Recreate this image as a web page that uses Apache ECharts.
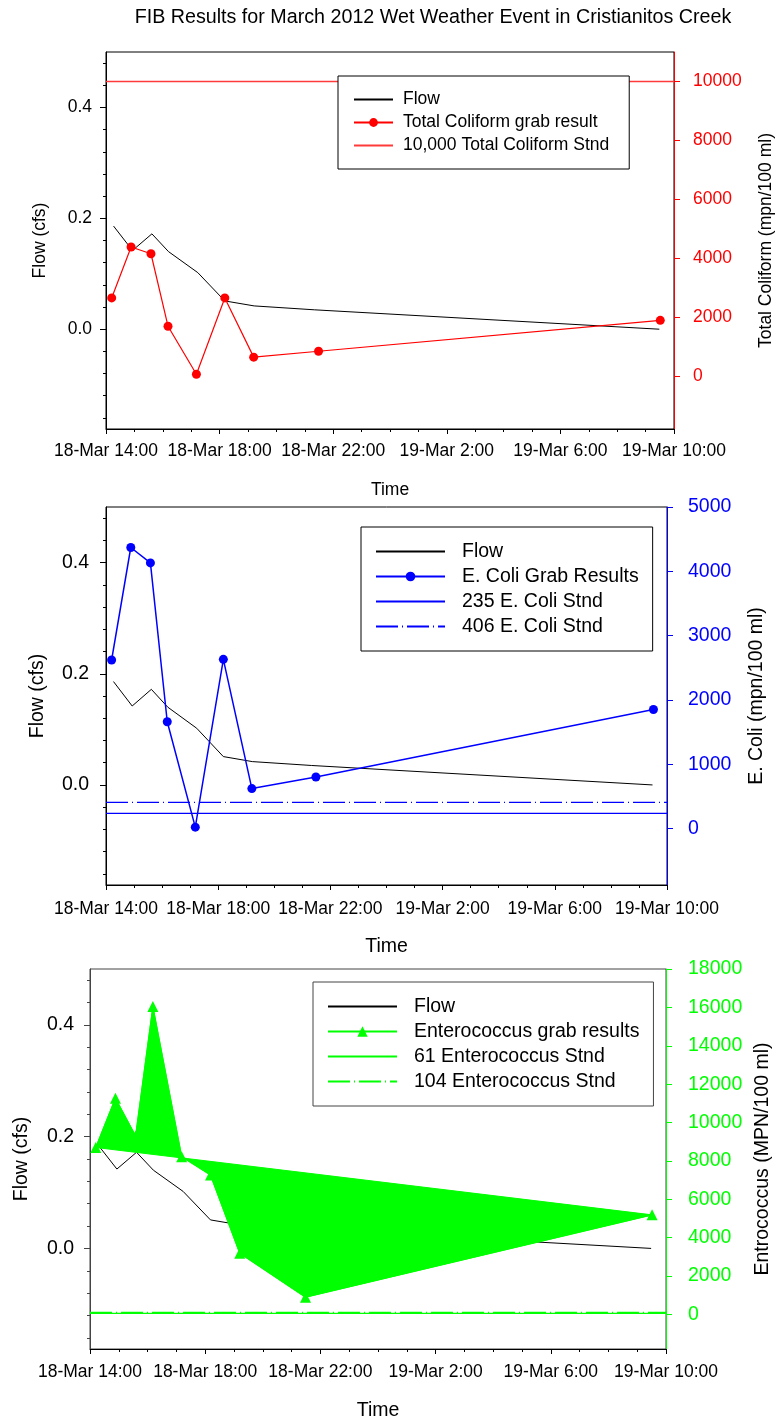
<!DOCTYPE html>
<html>
<head>
<meta charset="utf-8">
<script src="https://cdn.jsdelivr.net/npm/echarts@6/dist/echarts.min.js"></script>
<style>
  html, body { margin: 0; padding: 0; background: #fff; }
  #chart { width: 777px; height: 1425px; }
</style>
</head>
<body>
<div id="chart"></div>
<script>
// ---- data -------------------------------------------------------------
const TITLE = 'FIB Results for March 2012 Wet Weather Event in Cristianitos Creek';

const TIME_RANGE = ['2012-03-18 14:00', '2012-03-19 10:00'];

const FLOW_TIMES = ['2012-03-18 14:16', '2012-03-18 14:56', '2012-03-18 15:37', '2012-03-18 16:12',
                    '2012-03-18 17:14', '2012-03-18 18:11', '2012-03-18 19:13', '2012-03-18 21:20',
                    '2012-03-19 09:29'];
const FLOW_CFS = [0.186, 0.142, 0.172, 0.140, 0.102, 0.051, 0.042, 0.035, 0.0];

const SAMPLE_TIMES = ['2012-03-18 14:12', '2012-03-18 14:53', '2012-03-18 15:35', '2012-03-18 16:11',
                      '2012-03-18 17:11', '2012-03-18 18:11', '2012-03-18 19:12', '2012-03-18 21:29',
                      '2012-03-19 09:31'];
const TOTAL_COLIFORM = [2650, 4380, 4150, 1690, 60, 2650, 640, 840, 1890];
const E_COLI = [2620, 4370, 4130, 1660, 20, 2630, 620, 800, 1850];
const ENTEROCOCCUS = [8700, 11270, 9300, 16040, 8220, 7270, 3190, 900, 5190];

const TC_STANDARD = 10000;
const EC_STANDARDS = [235, 406];
const ENT_STANDARDS = [61, 104];

const FLOW_TICKS = [0, 0.2, 0.4];
const FLOW_MINOR_TICKS = [-0.16, -0.12, -0.08, -0.04, 0.04, 0.08, 0.12, 0.16,
                          0.24, 0.28, 0.32, 0.36, 0.44, 0.48];
const TC_TICKS = [0, 2000, 4000, 6000, 8000, 10000];
const EC_TICKS = [0, 1000, 2000, 3000, 4000, 5000];
const ENT_TICKS = [0, 2000, 4000, 6000, 8000, 10000, 12000, 14000, 16000, 18000];

// ---- helpers ----------------------------------------------------------
const FONT = '"Liberation Sans", Arial, Helvetica, sans-serif';
const RED = '#ff0000', BLUE = '#0000ff', GREEN = '#00ff00';
const HOUR = 3600 * 1000;

function toMs(s) {
  const [d, t] = s.split(' ');
  const [y, mo, da] = d.split('-').map(Number);
  const [h, mi] = t.split(':').map(Number);
  return Date.UTC(y, mo - 1, da, h, mi);
}
const X_MIN = toMs(TIME_RANGE[0]);
const X_MAX = toMs(TIME_RANGE[1]);
const pairs = (times, vals) => times.map((t, i) => [toMs(t), vals[i]]);
const flat = (v) => [[X_MIN, v], [X_MAX, v]];

function timeLabel(v) {
  const d = new Date(v);
  return d.getUTCDate() + '-Mar ' + d.getUTCHours() + ':00';
}

function xAxis(grid, nameFs, margin) {
  return {
    type: 'value', gridIndex: grid, min: X_MIN, max: X_MAX, interval: 4 * HOUR,
    name: 'Time', nameLocation: 'middle', nameGap: 52,
    nameTextStyle: { fontFamily: FONT, fontSize: nameFs, color: '#000' },
    axisLine: { show: true, onZero: false, lineStyle: { color: '#000', width: 1 } },
    axisTick: { show: true, length: 5, lineStyle: { color: '#000' } },
    minorTick: { show: true, splitNumber: 4, length: 3, lineStyle: { color: '#000' } },
    splitLine: { show: false },
    axisLabel: { fontFamily: FONT, fontSize: 17.5, color: '#000', margin: margin,
                 formatter: timeLabel, interval: 0, hideOverlap: false,
                 showMinLabel: true, showMaxLabel: true }
  };
}

function flowAxes(grid, fs, nameGap, margin, lineColor) {
  return [{
    type: 'value', gridIndex: grid, position: 'left', min: -0.18, max: 0.5,
    name: 'Flow (cfs)', nameLocation: 'middle', nameGap: nameGap,
    nameTextStyle: { fontFamily: FONT, fontSize: fs, color: '#000' },
    axisLine: { show: true, onZero: false, lineStyle: { color: lineColor, width: 1 } },
    axisTick: { show: true, length: 6, customValues: FLOW_TICKS, lineStyle: { color: lineColor } },
    splitLine: { show: false },
    axisLabel: { fontFamily: FONT, fontSize: fs, color: '#000', margin: margin,
                 customValues: FLOW_TICKS, formatter: (v) => v.toFixed(1) }
  }, {
    type: 'value', gridIndex: grid, position: 'left', min: -0.18, max: 0.5,
    axisLine: { show: false },
    axisTick: { show: true, length: 3, customValues: FLOW_MINOR_TICKS, lineStyle: { color: lineColor } },
    splitLine: { show: false },
    axisLabel: { show: false }
  }];
}

function rightAxis(grid, name, min, max, ticks, color, fs, nameGap, margin) {
  return {
    type: 'value', gridIndex: grid, position: 'right', min: min, max: max,
    name: name, nameLocation: 'middle', nameGap: nameGap,
    nameTextStyle: { fontFamily: FONT, fontSize: fs, color: '#000' },
    axisLine: { show: true, onZero: false, lineStyle: { color: color, width: 1 } },
    axisTick: { show: true, length: 6, customValues: ticks, lineStyle: { color: color } },
    splitLine: { show: false },
    axisLabel: { fontFamily: FONT, fontSize: fs, color: color, margin: margin, customValues: ticks,
                 formatter: (v) => String(Math.round(v)) }
  };
}

function legend(left, top, items, fs, itemWidth, itemHeight, lineH, padding, textGap, border) {
  return {
    orient: 'vertical', left: left, top: top,
    data: items, itemWidth: itemWidth, itemHeight: itemHeight, itemGap: 0,
    padding: padding, backgroundColor: '#fff', borderColor: border, borderWidth: 1,
    textStyle: { fontFamily: FONT, fontSize: fs, color: '#000', lineHeight: lineH,
                 padding: [0, 0, 0, textGap] },
    selectedMode: false
  };
}
const lineOnly = (name) => ({ name: name, itemStyle: { opacity: 0 } });

// ---- chart ------------------------------------------------------------
const chart = echarts.init(document.getElementById('chart'), null, { renderer: 'canvas' });

const gridBase = { show: true, borderWidth: 1, outerBoundsMode: 'none', containLabel: false };

const option = {
  animation: false,
  backgroundColor: '#fff',
  title: {
    text: TITLE, left: 428, top: 3, textAlign: 'center',
    textStyle: { fontFamily: FONT, fontSize: 19.7, fontWeight: 'normal', color: '#000' }
  },
  grid: [
    Object.assign({ left: 106, right: 103, top: 52, height: 377, borderColor: '#000' }, gridBase),
    Object.assign({ left: 106, right: 110, top: 507, height: 378, borderColor: '#000' }, gridBase),
    Object.assign({ left: 90, right: 111, top: 969, height: 380, borderColor: '#444' }, gridBase)
  ],
  legend: [
    legend(338, 76, [lineOnly('Flow'), 'Total Coliform grab result', lineOnly('10,000 Total Coliform Stnd')],
           17.5, 39, 11, 23, [12, 20, 12, 15], 5, '#000'),
    legend(361, 527, [lineOnly('Flow'), 'E. Coli Grab Results', lineOnly('235 E. Coli Stnd'),
                      lineOnly('406 E. Coli Stnd')],
           19.5, 69, 12, 25, [12, 14, 12, 14], 12, '#000'),
    legend(313, 982, [lineOnly('Flow'), 'Enterococcus grab results', lineOnly('61 Enterococcus Stnd'),
                      lineOnly('104 Enterococcus Stnd')],
           19.5, 69, 13, 25, [12, 14, 12, 14], 12, '#444')
  ],
  xAxis: [xAxis(0, 17.5, 13), xAxis(1, 19.5, 15), xAxis(2, 19.5, 14)],
  yAxis: [
    ...flowAxes(0, 17.5, 57, 14, '#000'),
    rightAxis(0, 'Total Coliform (mpn/100 ml)', -1800, 11000, TC_TICKS, RED, 17.5, 83, 19),
    ...flowAxes(1, 19.5, 58, 17, '#000'),
    rightAxis(1, 'E. Coli (mpn/100 ml)', -880, 5000, EC_TICKS, BLUE, 19.5, 80, 21),
    ...flowAxes(2, 19.5, 58, 16, '#444'),
    rightAxis(2, 'Entrococcus (MPN/100 ml)', -1800, 18000, ENT_TICKS, GREEN, 19.5, 87, 22)
  ],
  series: [
    // Total coliform panel
    { name: 'Flow', type: 'line', xAxisIndex: 0, yAxisIndex: 0, data: pairs(FLOW_TIMES, FLOW_CFS),
      symbol: 'none', lineStyle: { color: '#000', width: 1 }, itemStyle: { color: '#000' }, z: 2 },
    { name: '10,000 Total Coliform Stnd', type: 'line', xAxisIndex: 0, yAxisIndex: 2, data: flat(TC_STANDARD),
      symbol: 'none', lineStyle: { color: '#ff3a3a', width: 1.5 }, itemStyle: { color: '#ff3a3a' }, z: 2 },
    { name: 'Total Coliform grab result', type: 'line', xAxisIndex: 0, yAxisIndex: 2,
      data: pairs(SAMPLE_TIMES, TOTAL_COLIFORM), symbol: 'circle', symbolSize: 9,
      lineStyle: { color: RED, width: 1.2 }, itemStyle: { color: RED }, z: 3 },

    // E. coli panel
    { name: 'Flow', type: 'line', xAxisIndex: 1, yAxisIndex: 3, data: pairs(FLOW_TIMES, FLOW_CFS),
      symbol: 'none', lineStyle: { color: '#000', width: 1 }, itemStyle: { color: '#000' }, z: 2 },
    { name: '235 E. Coli Stnd', type: 'line', xAxisIndex: 1, yAxisIndex: 5, data: flat(EC_STANDARDS[0]),
      symbol: 'none', lineStyle: { color: BLUE, width: 1.2 }, itemStyle: { color: BLUE }, z: 2 },
    { name: '406 E. Coli Stnd', type: 'line', xAxisIndex: 1, yAxisIndex: 5, data: flat(EC_STANDARDS[1]),
      symbol: 'none', lineStyle: { color: BLUE, width: 1.2, type: [22, 4, 1, 4] },
      itemStyle: { color: BLUE }, z: 2 },
    { name: 'E. Coli Grab Results', type: 'line', xAxisIndex: 1, yAxisIndex: 5,
      data: pairs(SAMPLE_TIMES, E_COLI), symbol: 'circle', symbolSize: 9,
      lineStyle: { color: BLUE, width: 1.5 }, itemStyle: { color: BLUE }, z: 3 },

    // Enterococcus panel
    { name: 'Flow', type: 'line', xAxisIndex: 2, yAxisIndex: 6, data: pairs(FLOW_TIMES, FLOW_CFS),
      symbol: 'none', lineStyle: { color: '#000', width: 1 }, itemStyle: { color: '#000' }, z: 2 },
    { name: '61 Enterococcus Stnd', type: 'line', xAxisIndex: 2, yAxisIndex: 8, data: flat(ENT_STANDARDS[0]),
      symbol: 'none', lineStyle: { color: GREEN, width: 1.2 }, itemStyle: { color: GREEN }, z: 2 },
    { name: '104 Enterococcus Stnd', type: 'line', xAxisIndex: 2, yAxisIndex: 8, data: flat(ENT_STANDARDS[1]),
      symbol: 'none', lineStyle: { color: GREEN, width: 1.2, type: [22, 4, 1, 4] },
      itemStyle: { color: GREEN }, z: 2 },
    // closed, filled outline of the enterococcus results
    { type: 'custom', xAxisIndex: 2, yAxisIndex: 8, data: [[X_MIN, 0]], z: 3, silent: true,
      renderItem: function (params, api) {
        const pts = SAMPLE_TIMES.map((t, i) => api.coord([toMs(t), ENTEROCOCCUS[i]]));
        return { type: 'polygon', shape: { points: pts }, style: { fill: GREEN, stroke: GREEN, lineWidth: 1 } };
      } },
    { name: 'Enterococcus grab results', type: 'line', xAxisIndex: 2, yAxisIndex: 8,
      data: pairs(SAMPLE_TIMES, ENTEROCOCCUS), symbol: 'triangle', symbolSize: 11,
      lineStyle: { color: GREEN, width: 1.2 }, itemStyle: { color: GREEN }, z: 4 }
  ]
};

chart.setOption(option);
</script>
</body>
</html>
